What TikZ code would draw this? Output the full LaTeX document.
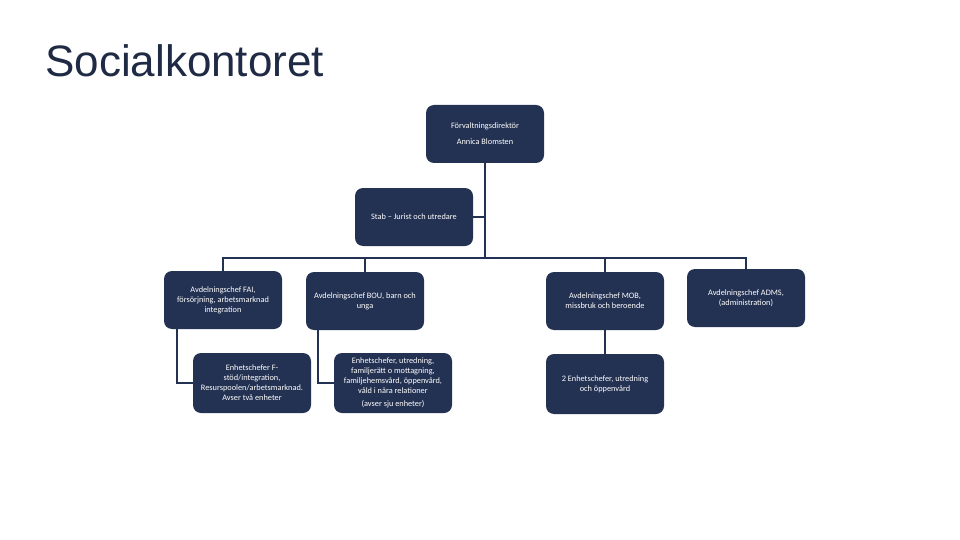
\documentclass[tikz,border=0pt]{standalone}
\usepackage{fontspec}
\setmainfont{Carlito}
\newfontfamily\titlefont{Liberation Sans}
\definecolor{navy}{HTML}{233152}
\definecolor{titlecol}{HTML}{1F2A44}
\begin{document}
\begin{tikzpicture}[x=1pt,y=-1pt,
  box/.style={draw=none,fill=navy,rounded corners=8pt,minimum width=118pt,minimum height=58pt,
    text=white,align=center,font=\fontsize{8.3}{10}\selectfont,inner sep=1pt},
  link/.style={draw=navy,line width=2.8pt}]
\useasboundingbox (0,0) rectangle (960,540);
\node[anchor=base west,text=titlecol,font=\titlefont\fontsize{44}{48}\selectfont,inner sep=0pt] (title) at (45,77) {Socialkontoret};

\node[box] (top) at (485,134) {Förvaltningsdirektör\\[6pt]Annica Blomsten};
\node[box] (stab) at (414,217) {Stab – Jurist och utredare};
\node[box] (fai) at (223,300) {Avdelningschef FAI,\\försörjning, arbetsmarknad\\integration};
\node[box] (bou) at (365,301) {Avdelningschef BOU, barn och\\unga};
\node[box] (mob) at (605,301) {Avdelningschef MOB,\\missbruk och beroende};
\node[box] (adms) at (746,298) {Avdelningschef ADMS,\\(administration)};
\node[box,minimum height=60pt] (faic) at (252,383) {Enhetschefer F-\\stöd/integration,\\Resurspoolen/arbetsmarknad.\\Avser två enheter};
\node[box,minimum height=60pt] (bouc) at (393,383) {Enhetschefer, utredning,\\familjerätt o mottagning,\\familjehemsvård, öppenvård,\\våld i nära relationer\\[3pt](avser sju enheter)};
\node[box,minimum height=60pt] (mobc) at (605,384) {2 Enhetschefer, utredning\\och öppenvård};

\coordinate (bus) at (0,258);
\draw[link] (top.south) -- (top.south |- bus);
\draw[link] (stab.east) -- (stab.east -| top.south);
\draw[link] (fai.north) -- (fai.north |- bus) -- (adms.north |- bus) -- (adms.north);
\draw[link] (bou.north) -- (bou.north |- bus);
\draw[link] (mob.north) -- (mob.north |- bus);
\draw[link] ([xshift=-46pt]fai.south) |- (faic.west);
\draw[link] ([xshift=-47pt]bou.south) |- (bouc.west);
\draw[link] (mob.south) -- (mobc.north);
\end{tikzpicture}
\end{document}
